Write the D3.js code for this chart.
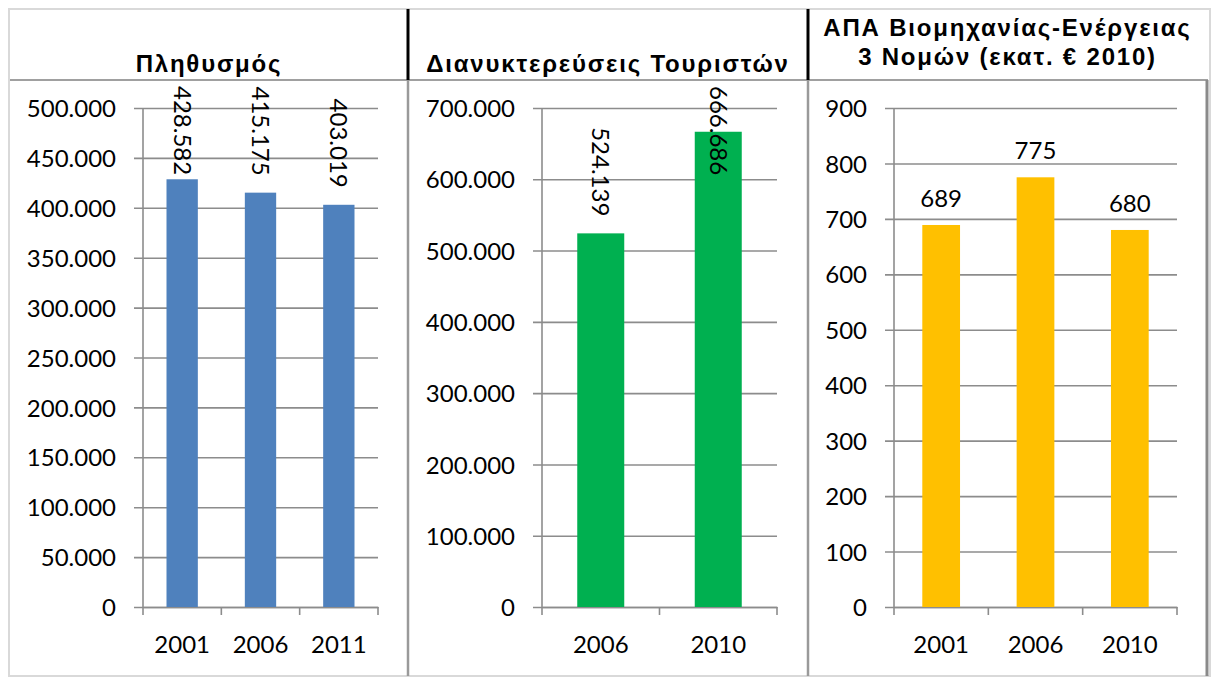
<!DOCTYPE html>
<html>
<head>
<meta charset="utf-8">
<script src="https://cdn.jsdelivr.net/npm/d3@7"></script>
<style>
  body { margin: 0; background: #fff; }
  svg { display: block; }
</style>
</head>
<body>
<svg width="1213" height="677"></svg>
<script>
// data
var popTitle = ["Πληθυσμός"];
var popYears = ["2001", "2006", "2011"];
var popValues = [428582, 415175, 403019];
var popTicks = [0, 50000, 100000, 150000, 200000, 250000, 300000, 350000, 400000, 450000, 500000];

var touristTitle = ["Διανυκτερεύσεις Τουριστών"];
var touristYears = ["2006", "2010"];
var touristValues = [524139, 666686];
var touristTicks = [0, 100000, 200000, 300000, 400000, 500000, 600000, 700000];

var gvaTitle = ["ΑΠΑ Βιομηχανίας-Ενέργειας", "3 Νομών (εκατ. € 2010)"];
var gvaYears = ["2001", "2006", "2010"];
var gvaValues = [689, 775, 680];
var gvaTicks = [0, 100, 200, 300, 400, 500, 600, 700, 800, 900];

var locale = d3.formatLocale({decimal: ",", thousands: ".", grouping: [3], currency: ["€", ""]});
var fmt = locale.format(",d");

var svg = d3.select("svg");
var labelFont = "Lato, 'Open Sans', sans-serif";
var plotTop = 108, plotBottom = 607;

function drawPanel(p) {
	var g = svg.append("g");

	var x = d3.scaleBand().domain(p.cats).range([p.x0, p.x1]).paddingInner(0.6).paddingOuter(0.3);
	var y = d3.scaleLinear().domain([0, p.max]).range([plotBottom, plotTop]);

	// title
	var t = g.append("text")
		.attr("text-anchor", "middle")
		.attr("font-family", "'Liberation Sans', Arial, sans-serif")
		.attr("font-weight", "bold")
		.attr("font-size", 24)
		.attr("letter-spacing", 1.8)
		.attr("fill", "#000");
	p.title.forEach(function(line, i) {
		var base = p.title.length == 1 ? 72 : 36 + i * 29;
		t.append("tspan").attr("x", (p.left + p.right) / 2).attr("y", base).text(line);
	});

	// gridlines + y axis
	var yAxis = d3.axisLeft(y).tickValues(p.ticks).tickFormat(fmt)
		.tickSize(-(p.x1 - p.x0)).tickPadding(27);
	var gy = g.append("g").attr("transform", "translate(" + p.x0 + ",0)").call(yAxis);
	gy.select(".domain").remove();
	gy.selectAll(".tick line").attr("stroke", "#8c8c8c").attr("stroke-width", 1.6).attr("x1", -9);
	gy.selectAll(".tick text").attr("font-family", labelFont).attr("font-size", 24)
		.attr("fill", "#000").attr("dy", "0.36em");
	g.append("line").attr("x1", p.x0).attr("x2", p.x0).attr("y1", plotTop).attr("y2", plotBottom)
		.attr("stroke", "#8c8c8c").attr("stroke-width", 1.6);

	// x axis
	var xAxis = d3.axisBottom(x).tickSize(0).tickPadding(29);
	var gx = g.append("g").attr("transform", "translate(0," + plotBottom + ")").call(xAxis);
	gx.select(".domain").attr("stroke", "#8c8c8c").attr("stroke-width", 1.6);
	gx.selectAll(".tick text").attr("font-family", labelFont).attr("font-size", 24).attr("fill", "#000");
	var step = (p.x1 - p.x0) / p.cats.length;
	d3.range(p.cats.length + 1).forEach(function(i) {
		gx.append("line").attr("x1", p.x0 + i * step).attr("x2", p.x0 + i * step)
			.attr("y1", 0).attr("y2", 8).attr("stroke", "#8c8c8c").attr("stroke-width", 1.6);
	});

	// bars
	g.selectAll("rect.bar").data(p.values).enter().append("rect")
		.attr("class", "bar")
		.attr("x", (d, i) => x(p.cats[i]))
		.attr("width", x.bandwidth())
		.attr("y", d => y(d))
		.attr("height", d => plotBottom - y(d))
		.attr("fill", p.color);

	// value labels
	var labels = g.selectAll("text.val").data(p.values).enter().append("text")
		.attr("class", "val")
		.attr("font-family", labelFont)
		.attr("font-size", 24)
		.attr("fill", "#000")
		.text(d => fmt(d));
	if (p.rotate) {
		labels.each(function(d, i) {
			var len = this.getComputedTextLength();
			var cx = x(p.cats[i]) + x.bandwidth() / 2;
			var ys = Math.max(86, y(d) - 17 - len);
			d3.select(this).attr("text-anchor", "start").attr("dy", "0.36em")
				.attr("transform", "translate(" + cx + "," + ys + ") rotate(90)");
		});
	} else {
		labels.attr("text-anchor", "middle")
			.attr("x", (d, i) => x(p.cats[i]) + x.bandwidth() / 2)
			.attr("y", d => y(d) - 18);
	}
}

// frames
svg.append("rect").attr("x", 9).attr("y", 9).attr("width", 1201).attr("height", 667)
	.attr("fill", "none").attr("stroke", "#d9d9d9").attr("stroke-width", 2);
svg.append("line").attr("x1", 10).attr("x2", 1208).attr("y1", 80).attr("y2", 80)
	.attr("stroke", "#a0a0a0").attr("stroke-width", 2);
[408, 808].forEach(function(xx) {
	svg.append("line").attr("x1", xx).attr("x2", xx).attr("y1", 9).attr("y2", 80)
		.attr("stroke", "#000").attr("stroke-width", 3);
	svg.append("line").attr("x1", xx).attr("x2", xx).attr("y1", 80).attr("y2", 676)
		.attr("stroke", "#9a9a9a").attr("stroke-width", 2.5);
});
svg.append("line").attr("x1", 1207).attr("x2", 1207).attr("y1", 80).attr("y2", 676)
	.attr("stroke", "#8a8a8a").attr("stroke-width", 3);

drawPanel({title: popTitle, cats: popYears, values: popValues, ticks: popTicks, max: 500000,
	left: 10, right: 408, x0: 143, x1: 378, color: "#4f81bd", rotate: true});
drawPanel({title: touristTitle, cats: touristYears, values: touristValues, ticks: touristTicks, max: 700000,
	left: 408, right: 808, x0: 542, x1: 777, color: "#00b050", rotate: true});
drawPanel({title: gvaTitle, cats: gvaYears, values: gvaValues, ticks: gvaTicks, max: 900,
	left: 808, right: 1207, x0: 894, x1: 1177, color: "#ffc000", rotate: false});
</script>
</body>
</html>
